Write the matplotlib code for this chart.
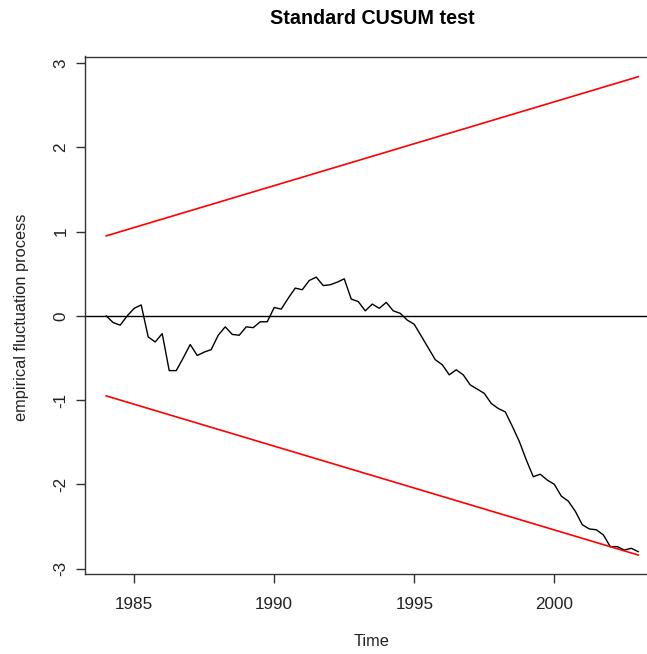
import numpy as np
import matplotlib
matplotlib.use("Agg")
import matplotlib.pyplot as plt

plt.rcParams['font.family'] = ['Liberation Sans', 'DejaVu Sans']

### quarterly time axis, 1984 Q1 .. 2003 Q1
start_year = 1984.0
end_year = 2003.0
freq = 4

### empirical fluctuation process (OLS-CUSUM), one value per quarter
cusum = [0.00, -0.08, -0.11, 0.00, 0.09, 0.13, -0.25, -0.31, -0.21, -0.65,
         -0.65, -0.50, -0.34, -0.47, -0.43, -0.40, -0.23, -0.13, -0.22, -0.23,
         -0.13, -0.14, -0.07, -0.07, 0.10, 0.08, 0.21, 0.33, 0.31, 0.42,
         0.46, 0.36, 0.37, 0.40, 0.44, 0.20, 0.17, 0.06, 0.14, 0.09,
         0.16, 0.06, 0.03, -0.05, -0.10, -0.24, -0.38, -0.52, -0.58, -0.70,
         -0.64, -0.70, -0.82, -0.87, -0.92, -1.04, -1.10, -1.14, -1.31, -1.49,
         -1.71, -1.91, -1.88, -1.95, -2.00, -2.14, -2.20, -2.32, -2.48, -2.53,
         -2.54, -2.60, -2.74, -2.74, -2.78, -2.76, -2.80]

### 5% boundary at the first and last time point
bound_t = [1984.0, 2003.0]
bound_v = [0.95, 2.84]

xticks = [1985, 1990, 1995, 2000]
yticks = [-3, -2, -1, 0, 1, 2, 3]

t = start_year + np.arange(len(cusum)) / freq

W, H = 647, 654
fig = plt.figure(figsize=(W / 100, H / 100), dpi=100)
# axes run past the right edge of the figure
ax = fig.add_axes([84.5 / W, 80 / H, 575.5 / W, 517.5 / H])

ax.plot(t, cusum, color='black', lw=1.0)
ax.plot(bound_t, bound_v, color='#ff0000', lw=1.2)
ax.plot(bound_t, [-b for b in bound_v], color='#ff0000', lw=1.2)
ax.axhline(0, color='black', lw=1.0)

ax.set_xlim(1983.225, 2003.775)
ax.set_ylim(-3.065, 3.08)
ax.set_xticks(xticks)
ax.set_yticks(yticks)
ax.set_xticklabels([str(x) for x in xticks])
ax.set_yticklabels([str(y) for y in yticks], rotation=90, va='center')

for s in ax.spines.values():
    s.set_color('#333333')
    s.set_linewidth(1.0)
ax.tick_params(direction='out', length=6.5, width=1.0, color='#333333',
               labelsize=12.3, labelcolor='#222222')
ax.tick_params(axis='x', pad=10)
ax.tick_params(axis='y', pad=5)

fig.text(372 / W, 1 - 18 / H, 'Standard CUSUM test', ha='center', va='center',
         fontsize=14.2, fontweight='bold')
fig.text(372 / W, 1 - 641 / H, 'Time', ha='center', va='center',
         fontsize=11.8, color='#222222')
fig.text(22 / W, 1 - 317 / H, 'empirical fluctuation process', ha='center',
         va='center', rotation=90, fontsize=11.8, color='#222222')

fig.savefig('out.png', dpi=100, facecolor='white')
